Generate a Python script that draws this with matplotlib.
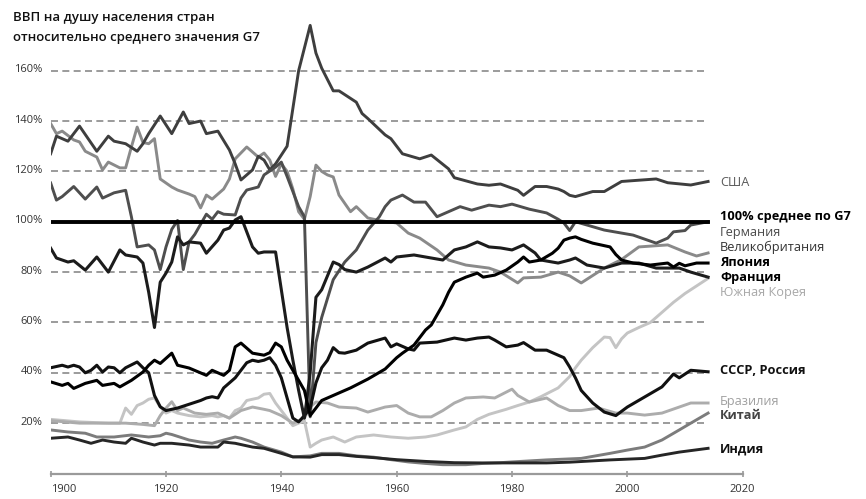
import matplotlib
matplotlib.use('Agg')
import matplotlib.pyplot as plt
import matplotlib.transforms as mtransforms

plt.rcParams['font.family'] = ['Open Sans', 'DejaVu Sans']

# --- данные (ВВП на душу населения, % от среднего G7) ---
usa_years = [1900, 1901, 1903, 1905, 1908, 1910, 1911, 1913, 1915, 1916, 1917, 1919, 1921, 1923, 1924,
             1926, 1927, 1929, 1931, 1932, 1933, 1935, 1936, 1937, 1938, 1939, 1941, 1942, 1943, 1944,
             1945, 1946, 1947, 1949, 1950, 1953, 1954, 1955, 1958, 1959, 1961, 1964, 1966, 1969, 1970,
             1974, 1976, 1978, 1981, 1982, 1984, 1986, 1988, 1989, 1990, 1991, 1994, 1996, 1999, 2002,
             2005, 2007, 2011, 2014]
usa_vals = [127, 134, 132, 138, 128, 134, 132, 131, 128, 131, 135, 142, 135, 143.6, 139,
            140, 135, 136, 128.5, 123, 116.6, 120.6, 126, 124.5, 120.6, 123, 130, 145, 160, 169,
            178, 167, 161, 152, 152, 147.5, 143, 141, 134.5, 133, 127, 125, 126.5, 121, 117.5,
            115, 114.5, 115, 112.5, 110.5, 114, 114, 113, 112, 110.5, 110, 112, 112, 116, 116.5,
            117, 115.5, 114.6, 116]

uk_years = [1900, 1901, 1902, 1904, 1905, 1906, 1908, 1909, 1910, 1912, 1913, 1914, 1915, 1916, 1917,
            1918, 1919, 1921, 1922, 1924, 1925, 1926, 1927, 1928, 1930, 1931, 1932, 1934, 1936, 1937,
            1938, 1939, 1940, 1941, 1942, 1943, 1944, 1945, 1946, 1947, 1948, 1949, 1950, 1952, 1953,
            1955, 1957, 1960, 1962, 1964, 1967, 1969, 1972, 1976, 1978, 1981, 1982, 1985, 1988, 1990,
            1992, 1996, 1999, 2002, 2007, 2010, 2012, 2014]
uk_vals = [139, 135, 136, 132.5, 131.7, 128, 125.7, 120.6, 123.7, 121.4, 121.4, 129.7, 137.6, 131.5, 131,
           133, 117, 113.8, 112.6, 111, 110, 105.5, 110.6, 109, 113, 117, 125, 129.7, 125.7, 127.3,
           124.5, 118, 123, 120, 113, 104, 101, 110, 122.5, 120, 118.6, 117.8, 110.6, 104, 106,
           101.5, 100.5, 99.5, 95.5, 93.5, 88.8, 84.8, 82.8, 81.6, 80, 75.7, 77.7, 78, 80, 78.5,
           75.7, 81.6, 85, 90, 90.8, 88, 86.4, 87.6]

ger_years = [1900, 1901, 1902, 1904, 1906, 1908, 1909, 1911, 1913, 1914, 1915, 1917, 1918, 1919, 1920,
             1921, 1922, 1923, 1924, 1925, 1926, 1927, 1928, 1929, 1930, 1932, 1933, 1934, 1936, 1937,
             1939, 1940, 1941, 1942, 1943, 1944, 1945, 1946, 1947, 1949, 1951, 1953, 1955, 1957, 1958,
             1959, 1961, 1963, 1965, 1967, 1969, 1971, 1973, 1976, 1978, 1980, 1983, 1986, 1988, 1989,
             1990, 1991, 1993, 1996, 1999, 2001, 2005, 2007, 2008, 2010, 2011, 2014]
ger_vals = [115.4, 108.6, 110, 114, 109, 113.8, 109.4, 111.5, 112.5, 102, 90, 90.8, 88.8, 81, 90,
            97, 100.5, 81, 92, 95, 99, 103, 101, 104, 103, 102.7, 109.4, 112.6, 113.8, 118.6,
            121.7, 123.7, 118, 112, 106, 102, 22.5, 52, 62, 77, 84, 88.8, 96.7, 102, 106,
            108.6, 110.6, 107.8, 107.8, 102, 104, 106, 104.6, 106.6, 106, 107, 105, 103.5, 101, 99.5,
            96.5, 100, 98.7, 96.7, 95.5, 94.7, 91.5, 93.5, 96, 96.5, 98.7, 100]

fra_years = [1900, 1901, 1903, 1904, 1906, 1908, 1910, 1912, 1913, 1915, 1916, 1917, 1918, 1919, 1920,
             1921, 1922, 1923, 1924, 1926, 1927, 1929, 1930, 1931, 1932, 1933, 1934, 1935, 1936, 1937,
             1939, 1940, 1941, 1942, 1943, 1944, 1945, 1946, 1947, 1949, 1950, 1951, 1953, 1955, 1958,
             1959, 1960, 1963, 1966, 1968, 1970, 1972, 1974, 1976, 1978, 1980, 1982, 1984, 1985, 1988,
             1990, 1991, 1993, 1996, 1999, 2002, 2005, 2009, 2011, 2014]
fra_vals = [89.5, 85.6, 84, 84.5, 80.8, 86, 80, 88.8, 86.8, 86, 83.6, 72, 58, 76, 79.6,
            84, 94, 90.8, 92, 91.5, 87.5, 92.7, 96.7, 97.5, 100.7, 102, 96, 90, 87.5, 88,
            88, 73, 58, 45, 33, 22, 40, 70, 73, 84, 83, 81, 80, 82, 85.6,
            84, 86, 86.8, 85.6, 84.8, 88.8, 90, 92, 90, 89.6, 88.8, 90.8, 87.6, 84.8, 83.6,
            84.8, 85.6, 82.8, 81.6, 83.6, 83.6, 81.6, 81.6, 80, 78]

jpn_years = [1900, 1902, 1903, 1904, 1906, 1908, 1909, 1911, 1912, 1914, 1916, 1917, 1918, 1919, 1921,
             1922, 1924, 1927, 1928, 1930, 1931, 1932, 1933, 1935, 1937, 1938, 1939, 1940, 1941, 1942,
             1943, 1944, 1945, 1946, 1947, 1948, 1950, 1952, 1955, 1958, 1960, 1961, 1963, 1964, 1965,
             1966, 1967, 1968, 1969, 1970, 1971, 1972, 1974, 1975, 1977, 1979, 1981, 1982, 1983, 1985,
             1987, 1988, 1989, 1990, 1991, 1992, 1994, 1997, 1998, 1999, 2001, 2004, 2007, 2008, 2009,
             2010, 2012, 2014]
jpn_vals = [36.4, 35, 35.8, 33.8, 35.8, 37, 35, 35.8, 34.4, 37, 40.3, 43, 45, 43.7, 47.8,
            43, 41.9, 39, 41, 39, 41, 50.3, 51.8, 47.8, 47, 48, 51.8, 50.3, 45, 41,
            37, 33, 23, 26, 29, 30, 32, 34, 37.5, 41.5, 46, 47.8, 51, 54, 57,
            59, 63, 67, 72, 76, 77, 78, 79.6, 78, 78.8, 80.8, 84, 86, 84, 84.8,
            87.5, 89.5, 92.7, 93.5, 94, 93, 91.5, 90, 87, 84.8, 83.6, 82.8, 83.6, 82, 83.5,
            82.5, 83.6, 83.6]

kor_years = [1900, 1905, 1910, 1912, 1913, 1914, 1915, 1916, 1917, 1918, 1919, 1920, 1921, 1922, 1924,
             1926, 1928, 1929, 1930, 1931, 1932, 1933, 1934, 1935, 1936, 1937, 1938, 1939, 1940, 1941,
             1942, 1943, 1944, 1945, 1946, 1947, 1949, 1951, 1953, 1956, 1959, 1962, 1965, 1967, 1970,
             1972, 1974, 1976, 1979, 1981, 1983, 1985, 1988, 1990, 1991, 1992, 1994, 1996, 1997, 1998,
             1999, 2000, 2002, 2004, 2006, 2008, 2010, 2012, 2014]
kor_vals = [21.5, 20.5, 20, 20, 26, 23.5, 27, 28, 29.5, 30, 26.5, 24, 25, 24, 23,
            22.5, 23, 22.5, 23, 22, 25, 26, 29, 29.5, 30, 31.5, 31.8, 28, 25, 22,
            19, 20, 21, 10.5, 12, 13.3, 14.5, 12.5, 14.5, 15.3, 14.5, 14, 14.5, 15.3, 17.3,
            18.5, 21.5, 23.5, 25.5, 27, 28.4, 30.5, 34, 38.5, 42, 45, 50, 54.2, 54, 50,
            53.5, 55.8, 58, 60, 64, 68, 71.5, 74.5, 77.5]

rus_years = [1900, 1902, 1903, 1904, 1905, 1906, 1907, 1908, 1909, 1910, 1911, 1912, 1913, 1915, 1916,
             1917, 1918, 1919, 1920, 1921, 1922, 1924, 1926, 1927, 1928, 1929, 1930, 1931, 1932, 1933,
             1934, 1935, 1936, 1937, 1938, 1939, 1940, 1941, 1942, 1943, 1944, 1945, 1946, 1947, 1948,
             1949, 1950, 1951, 1953, 1955, 1958, 1959, 1960, 1962, 1963, 1964, 1967, 1970, 1972, 1974,
             1976, 1977, 1979, 1981, 1982, 1984, 1986, 1988, 1989, 1990, 1991, 1992, 1994, 1996, 1998,
             2000, 2003, 2006, 2008, 2009, 2011, 2014]
rus_vals = [42, 43, 42.3, 43, 42.3, 40, 41, 43, 40.3, 42.3, 42, 40, 42, 44.3, 42,
            40, 31, 26.5, 25, 25.5, 26, 27.5, 29, 30, 30.5, 30, 34, 36, 38, 41,
            44, 45, 44.5, 45, 46, 43, 38, 30, 22, 20.5, 23, 26, 36, 42, 45,
            50, 48, 47.8, 49, 51.8, 53.8, 50.3, 51.5, 49.5, 49, 51.8, 52.2, 53.8, 53, 53.8,
            54.2, 53, 50.3, 51, 52, 49, 49, 47, 46, 42.3, 38, 33, 28, 24.4, 23,
            26.4, 30.4, 34.4, 39.5, 38, 41, 40.4]

bra_years = [1900, 1905, 1910, 1913, 1916, 1918, 1919, 1920, 1921, 1922, 1923, 1925, 1927, 1929, 1931,
             1933, 1935, 1937, 1938, 1940, 1942, 1943, 1944, 1945, 1946, 1948, 1950, 1953, 1955, 1958,
             1960, 1962, 1964, 1966, 1968, 1970, 1972, 1975, 1977, 1980, 1981, 1983, 1986, 1988, 1990,
             1992, 1995, 1998, 2000, 2003, 2006, 2009, 2011, 2014]
bra_vals = [21, 20, 20, 20, 19.5, 19, 23, 26, 28.5, 25, 26, 24, 23.5, 24, 22,
            25, 26.4, 25.5, 25, 23, 20, 21, 22, 26.4, 28.4, 28, 26.4, 26, 24.4, 26.4,
            27, 24, 22.5, 22.5, 25, 28, 30, 30.4, 30, 33.5, 31, 28.4, 30, 27, 25,
            25, 26, 24, 24, 23.2, 24, 26.4, 28, 28]

chn_years = [1900, 1903, 1906, 1908, 1911, 1914, 1917, 1919, 1920, 1921, 1924, 1926, 1928, 1930, 1932,
             1933, 1935, 1937, 1940, 1942, 1945, 1947, 1950, 1953, 1956, 1959, 1962, 1965, 1968, 1972,
             1975, 1978, 1980, 1986, 1992, 1997, 2000, 2003, 2006, 2009, 2011, 2014]
chn_vals = [17.3, 16.5, 16, 14.5, 14.5, 15.3, 14.5, 15, 16, 15.5, 13.3, 12.5, 12, 13.3, 14.5,
            14, 12.5, 10.5, 8.5, 6.6, 7, 8, 8, 7, 6.5, 5.5, 4.6, 4, 3.5, 3.5,
            4, 4.3, 4.6, 5.4, 6, 8, 9.3, 10.5, 13.3, 17.3, 20, 24]

ind_years = [1900, 1903, 1905, 1907, 1909, 1911, 1913, 1914, 1916, 1918, 1919, 1921, 1924, 1926, 1929,
             1930, 1932, 1935, 1937, 1940, 1942, 1945, 1947, 1950, 1953, 1956, 1960, 1965, 1970, 1975,
             1980, 1986, 1990, 1997, 2003, 2006, 2009, 2014]
ind_vals = [14, 14.5, 13.3, 12, 13.3, 12.5, 12, 14, 12.5, 11.3, 12, 12, 11.3, 10.5, 10.5,
            12.5, 12, 10.5, 10, 8, 6.6, 6.5, 7.5, 7.5, 6.8, 6.3, 5.5, 4.8, 4.3, 4.2,
            4.2, 4.2, 4.5, 5.4, 6, 7.3, 8.5, 10]

avg_level = 100
grid_levels = [20, 40, 60, 80, 120, 140, 160]
ytick_vals = [20, 40, 60, 80, 100, 120, 140, 160]
xtick_vals = [1900, 1920, 1940, 1960, 1980, 2000, 2020]

# подписи справа: (текст, уровень, цвет, жирный)
labels = [
    ("США", 115.4, '#5a5a5a', False),
    ("100% среднее по G7", 101.9, '#000000', True),
    ("Германия", 95.9, '#4a4a4a', False),
    ("Великобритания", 90.0, '#333333', False),
    ("Япония", 84.0, '#000000', True),
    ("Франция", 78.0, '#000000', True),
    ("Южная Корея", 71.7, '#a8a8a8', False),
    ("СССР, Россия", 40.8, '#111111', True),
    ("Бразилия", 28.5, '#a0a0a0', False),
    ("Китай", 23.2, '#444444', True),
    ("Индия", 9.7, '#111111', True),
]

fig = plt.figure(figsize=(8.66, 4.99), dpi=100)
ax = fig.add_axes([0.0585, 0.0511, 0.7991, 0.9182])
ax.set_xlim(1900, 2020)
ax.set_ylim(0, 182)

# пунктирная сетка
ax.hlines(grid_levels, 1900, 2014, colors='#8a8a8a', linewidth=1.2,
          linestyles=[(0, (4.2, 2.6))], zorder=1)

series = [
    (kor_years, kor_vals, '#c4c4c4', 2.1),
    (bra_years, bra_vals, '#acacac', 2.1),
    (chn_years, chn_vals, '#7c7c7c', 2.1),
    (ind_years, ind_vals, '#262626', 2.1),
    (uk_years, uk_vals, '#8a8a8a', 2.1),
    (usa_years, usa_vals, '#3e3e3e', 2.1),
    (ger_years, ger_vals, '#4e4e4e', 2.1),
    (rus_years, rus_vals, '#111111', 2.2),
    (fra_years, fra_vals, '#1c1c1c', 2.2),
    (jpn_years, jpn_vals, '#000000', 2.2),
]
for i, (yrs, vals, col, lw) in enumerate(series):
    ax.plot(yrs, vals, color=col, lw=lw, zorder=2 + i, solid_joinstyle='round')

ax.plot([1900, 2014], [avg_level, avg_level], color='#000000', lw=2.8, zorder=20)

# оси
for s in ['top', 'right', 'left']:
    ax.spines[s].set_visible(False)
ax.spines['bottom'].set_color('#9a9a9a')
ax.spines['bottom'].set_linewidth(1.6)

ax.set_xticks(xtick_vals)
ax.set_xticklabels([str(v) for v in xtick_vals], fontsize=8, color='#333333')
ax.tick_params(axis='x', direction='inout', length=5, width=1.2, color='#9a9a9a', pad=5)
ax.get_xticklabels()[0].set_ha('left')

ax.set_yticks(ytick_vals)
ax.set_yticklabels([f"{v}%" for v in ytick_vals], fontsize=8, color='#333333')
ax.tick_params(axis='y', length=0, pad=6)
shift = mtransforms.ScaledTranslation(0, 2.5 / 100, fig.dpi_scale_trans)
for lbl in ax.get_yticklabels():
    lbl.set_transform(lbl.get_transform() + shift)

for text, lev, col, bold in labels:
    ax.text(2016.1, lev, text, color=col, fontsize=9.2, va='center', ha='left',
            fontweight='bold' if bold else 'normal', clip_on=False)

fig.text(13 / 866, 1 - 17 / 499, "ВВП на душу населения стран", fontsize=9.5,
         fontweight='semibold', va='center', ha='left', color='#111111')
fig.text(13 / 866, 1 - 38 / 499, "относительно среднего значения G7", fontsize=9.5,
         fontweight='semibold', va='center', ha='left', color='#111111')

fig.savefig('out.png', dpi=100)
